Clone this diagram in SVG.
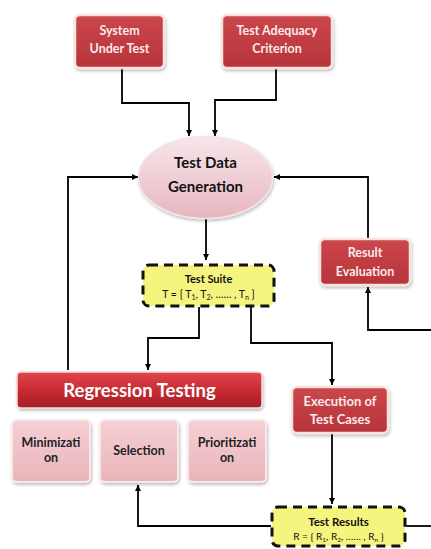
<svg xmlns="http://www.w3.org/2000/svg" width="431" height="549" viewBox="0 0 431 549">
<defs>
<linearGradient id="redg" x1="0" y1="0" x2="0" y2="1">
<stop offset="0" stop-color="#cb474c"/>
<stop offset="1" stop-color="#b6343a"/>
</linearGradient>
<linearGradient id="barg" x1="0" y1="0" x2="0" y2="1">
<stop offset="0" stop-color="#e0454a"/>
<stop offset="0.5" stop-color="#c92c33"/>
<stop offset="1" stop-color="#a11e25"/>
</linearGradient>
<linearGradient id="ellg" x1="0" y1="0" x2="0" y2="1">
<stop offset="0" stop-color="#f8e6ea"/>
<stop offset="1" stop-color="#e7b6c0"/>
</linearGradient>
<linearGradient id="pinkg" x1="0" y1="0" x2="0" y2="1">
<stop offset="0" stop-color="#f5d0d4"/>
<stop offset="1" stop-color="#e9b4ba"/>
</linearGradient>
<marker id="arr" viewBox="0 0 10 10" refX="10" refY="5" markerWidth="6" markerHeight="6" orient="auto" markerUnits="userSpaceOnUse">
<path d="M0,0 L10,5 L0,10 z" fill="#000"/>
</marker>
<filter id="sh" x="-10%" y="-10%" width="130%" height="140%">
<feDropShadow dx="1" dy="2" stdDeviation="1.5" flood-color="#000" flood-opacity="0.25"/>
</filter>
</defs>
<style>
.red{fill:url(#redg);stroke:#f6e4dc;stroke-width:2.5;filter:url(#sh)}
.bar{fill:url(#barg);stroke:#f4dcdc;stroke-width:1.5;filter:url(#sh)}
.pink{fill:url(#pinkg);stroke:#f8e8ea;stroke-width:2;filter:url(#sh)}
.yel{fill:#f5f47f;stroke:#111;stroke-width:3;stroke-dasharray:9 6}
.wt{font-family:Lato,"Liberation Sans",sans-serif;font-weight:bold;fill:#fbeaea;text-anchor:middle}
.dk{font-family:Lato,"Liberation Sans",sans-serif;font-weight:bold;fill:#222;text-anchor:middle}
.nm{font-family:Lato,"Liberation Sans",sans-serif;font-weight:normal;fill:#111;text-anchor:middle}
.ln{fill:none;stroke:#000;stroke-width:1.8}
.ar{marker-end:url(#arr)}
</style>
<g id="connectors">
<path class="ln ar" d="M122,68 V103 H189 V136"/>
<path class="ln ar" d="M276,68 V100 H215 V136"/>
<path class="ln ar" d="M68,370 V177 H138"/>
<path class="ln ar" d="M368,238 V177 H274"/>
<path class="ln ar" d="M206,219 V260"/>
<path class="ln ar" d="M431,330 H368 V287"/>
<path class="ln ar" d="M199,307 V338 H148 V370"/>
<path class="ln ar" d="M251,307 V343 H332 V385"/>
<path class="ln ar" d="M332,434 V504"/>
<path class="ln ar" d="M271,526 H138 V485"/>
<path class="ln" d="M406,526 H431"/>
</g>
<g id="system-under-test">
<rect class="red" x="75" y="15" width="89" height="53" rx="5"/>
<text class="wt" x="119.5" y="35" font-size="12.5">System</text>
<text class="wt" x="119.5" y="53" font-size="12.5">Under Test</text>
</g>
<g id="test-adequacy-criterion">
<rect class="red" x="222" y="15" width="110" height="53" rx="5"/>
<text class="wt" x="277" y="35" font-size="12.5">Test Adequacy</text>
<text class="wt" x="277" y="53" font-size="12.5">Criterion</text>
</g>
<g id="test-data-generation">
<ellipse cx="205.5" cy="177.5" rx="67" ry="41" fill="url(#ellg)" stroke="#f4e4e6" stroke-width="1.5" filter="url(#sh)"/>
<text class="dk" x="205.5" y="168" font-size="15" style="fill:#111">Test Data</text>
<text class="dk" x="205.5" y="192" font-size="15" style="fill:#111">Generation</text>
</g>
<g id="result-evaluation">
<rect class="red" x="320" y="239" width="90" height="46" rx="5"/>
<text class="wt" x="365" y="257" font-size="12.5">Result</text>
<text class="wt" x="365" y="276" font-size="12.5">Evaluation</text>
</g>
<g id="test-suite">
<rect class="yel" x="143" y="265" width="131" height="41" rx="6"/>
<text class="dk" x="208.5" y="283" font-size="11" style="fill:#111">Test Suite</text>
<text class="nm" x="208.5" y="298" font-size="10.5">T = { T<tspan font-size="7" dy="2">1</tspan><tspan dy="-2">, T</tspan><tspan font-size="7" dy="2">2</tspan><tspan dy="-2">, …… , T</tspan><tspan font-size="7" dy="2">n</tspan><tspan dy="-2"> }</tspan></text>
</g>
<g id="regression-testing">
<rect class="bar" x="17" y="372" width="245" height="36" rx="4"/>
<text class="wt" x="139.5" y="397" font-size="18.5" style="fill:#fff">Regression Testing</text>
</g>
<g id="minimization">
<rect class="pink" x="12" y="420" width="78" height="62" rx="5"/>
<text class="dk" x="51" y="447" font-size="12.5">Minimizati</text>
<text class="dk" x="51" y="462" font-size="12.5">on</text>
</g>
<g id="selection">
<rect class="pink" x="100" y="420" width="78" height="62" rx="5"/>
<text class="dk" x="139" y="455" font-size="12.5">Selection</text>
</g>
<g id="prioritization">
<rect class="pink" x="188" y="420" width="78" height="62" rx="5"/>
<text class="dk" x="227" y="447" font-size="12.5">Prioritizati</text>
<text class="dk" x="227" y="462" font-size="12.5">on</text>
</g>
<g id="execution-of-test-cases">
<rect class="red" x="292" y="387" width="96" height="46" rx="5"/>
<text class="wt" x="340" y="406" font-size="13">Execution of</text>
<text class="wt" x="340" y="424" font-size="13">Test Cases</text>
</g>
<g id="test-results">
<rect class="yel" x="272" y="507" width="133" height="39" rx="6"/>
<text class="dk" x="338.5" y="526" font-size="11.5" style="fill:#111">Test Results</text>
<text class="nm" x="338.5" y="540" font-size="10">R = { R<tspan font-size="6.5" dy="2">1</tspan><tspan dy="-2">, R</tspan><tspan font-size="6.5" dy="2">2</tspan><tspan dy="-2">, …… , R</tspan><tspan font-size="6.5" dy="2">n</tspan><tspan dy="-2"> }</tspan></text>
</g>
</svg>
